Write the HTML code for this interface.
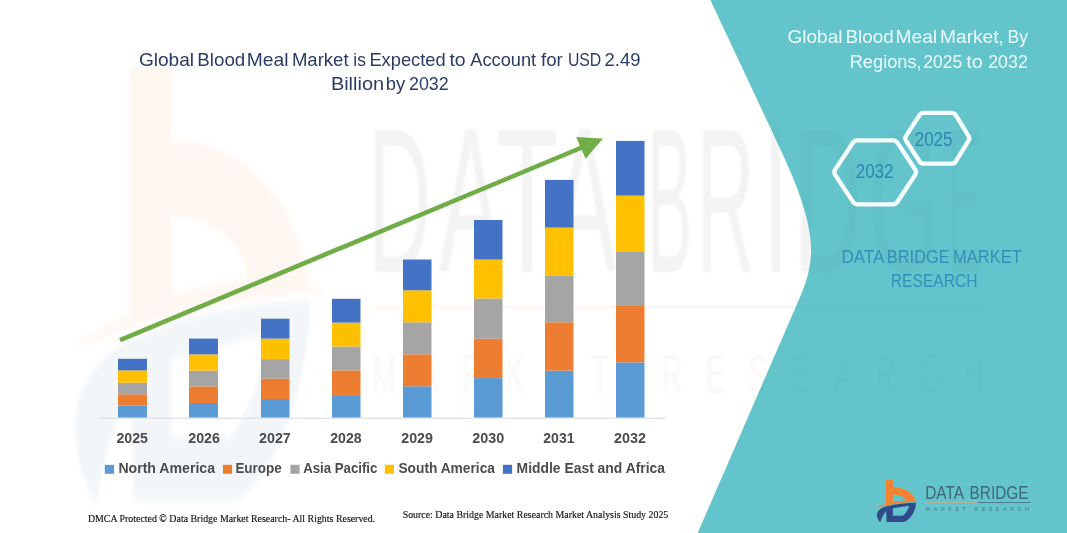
<!DOCTYPE html>
<html lang="en">
<head>
<meta charset="utf-8">
<title>Global Blood Meal Market</title>
<style>
html,body{margin:0;padding:0;background:#fff;}
body{width:1067px;height:533px;overflow:hidden;position:relative;font-family:"Liberation Sans",sans-serif;}
svg{position:absolute;left:0;top:0;display:block;}
.sans{font-family:"Liberation Sans",sans-serif;}
.serif{font-family:"Liberation Serif",serif;}
</style>
</head>
<body>
<svg width="1067" height="533" viewBox="0 0 1067 533">
<defs>
<g id="logo">
<path id="logoO" fill="#F58233" d="M155 48 L222 48 L222 118 C300 116 420 150 443 252 L470 259 C340 264 190 280 62 314 C90 298 125 288 155 282 Z M222 188 L222 262 L346 247 C340 215 290 188 222 188 Z"/>
<path id="logoB" fill="#2F4B8A" d="M100 460 C45 395 55 335 160 303 C250 280 350 270 446 268 C442 345 400 425 330 455 L160 455 L157 350 C135 375 112 415 100 460 Z M222 322 L222 396 L318 396 C348 372 368 340 378 298 Z"/>
</g>
<filter id="soft" x="-5%" y="-5%" width="110%" height="110%"><feGaussianBlur stdDeviation="3"/></filter>
<filter id="soft1" x="-2%" y="-5%" width="104%" height="110%"><feGaussianBlur stdDeviation="1.2"/></filter>
</defs>
<!-- watermark on white -->
<g transform="translate(34,16) scale(0.619,1.063)" filter="url(#soft)">
<use href="#logoO" opacity="0.075"/>
<use href="#logoB" opacity="0.05"/>
</g>
<!-- watermark text -->
<g id="wmtext" class="sans" fill="#555" opacity="0.035" filter="url(#soft1)">
<text transform="translate(0,271.5) scale(1,2.19)" font-size="94"><tspan x="368.0" textLength="63.3" lengthAdjust="spacingAndGlyphs">D</tspan><tspan x="439.0" textLength="62.7" lengthAdjust="spacingAndGlyphs">A</tspan><tspan x="496.0" textLength="62.2" lengthAdjust="spacingAndGlyphs">T</tspan><tspan x="552.0" textLength="64.7" lengthAdjust="spacingAndGlyphs">A</tspan> <tspan x="647.4" textLength="44.7" lengthAdjust="spacingAndGlyphs">B</tspan><tspan x="697.1" textLength="57.7" lengthAdjust="spacingAndGlyphs">R</tspan><tspan x="762.9" textLength="25.0" lengthAdjust="spacingAndGlyphs">I</tspan><tspan x="793.4" textLength="68.6" lengthAdjust="spacingAndGlyphs">D</tspan><tspan x="868.5" textLength="70.7" lengthAdjust="spacingAndGlyphs">G</tspan><tspan x="946.8" textLength="34.7" lengthAdjust="spacingAndGlyphs">E</tspan></text>
<text transform="translate(372,393) scale(1,1.9)" font-size="29" textLength="612" lengthAdjust="spacing" opacity="0.6">MARKET RESEARCH</text>
<rect x="372" y="305.5" width="268" height="3" fill="#F58233"/>
<rect x="640" y="305.5" width="345" height="3"/>
</g>
<!-- teal panel -->
<path id="panel" fill="#63C4CB" d="M710.4 0 L780.75 150 C820.1 234 815.3 262 798.8 300 L697.7 533 L1067 533 L1067 0 Z"/>
<use href="#wmtext"/>
<!-- axis -->
<line x1="98.3" y1="418.2" x2="665.6" y2="418.2" stroke="#D9D9D9" stroke-width="1"/>
<!-- bars -->
<rect x="118" y="405.6" width="29" height="11.9" fill="#5B9BD5"/>
<rect x="118" y="394.3" width="29" height="11.3" fill="#ED7D31"/>
<rect x="118" y="382.7" width="29" height="11.6" fill="#A5A5A5"/>
<rect x="118" y="370.4" width="29" height="12.3" fill="#FFC000"/>
<rect x="118" y="358.8" width="29" height="11.6" fill="#4472C4"/>
<rect x="189" y="403.0" width="29" height="14.5" fill="#5B9BD5"/>
<rect x="189" y="386.4" width="29" height="16.6" fill="#ED7D31"/>
<rect x="189" y="370.6" width="29" height="15.8" fill="#A5A5A5"/>
<rect x="189" y="354.4" width="29" height="16.2" fill="#FFC000"/>
<rect x="189" y="338.6" width="29" height="15.8" fill="#4472C4"/>
<rect x="261" y="399.0" width="28.5" height="18.5" fill="#5B9BD5"/>
<rect x="261" y="378.5" width="28.5" height="20.5" fill="#ED7D31"/>
<rect x="261" y="359.1" width="28.5" height="19.4" fill="#A5A5A5"/>
<rect x="261" y="338.6" width="28.5" height="20.5" fill="#FFC000"/>
<rect x="261" y="318.7" width="28.5" height="19.9" fill="#4472C4"/>
<rect x="332" y="395.1" width="28.5" height="22.4" fill="#5B9BD5"/>
<rect x="332" y="370.4" width="28.5" height="24.7" fill="#ED7D31"/>
<rect x="332" y="346.5" width="28.5" height="23.9" fill="#A5A5A5"/>
<rect x="332" y="322.6" width="28.5" height="23.9" fill="#FFC000"/>
<rect x="332" y="298.8" width="28.5" height="23.8" fill="#4472C4"/>
<rect x="403" y="386.3" width="28.5" height="31.2" fill="#5B9BD5"/>
<rect x="403" y="354.3" width="28.5" height="32.0" fill="#ED7D31"/>
<rect x="403" y="322.3" width="28.5" height="32.0" fill="#A5A5A5"/>
<rect x="403" y="290.3" width="28.5" height="32.0" fill="#FFC000"/>
<rect x="403" y="259.5" width="28.5" height="30.8" fill="#4472C4"/>
<rect x="474" y="378.1" width="28.5" height="39.4" fill="#5B9BD5"/>
<rect x="474" y="338.6" width="28.5" height="39.5" fill="#ED7D31"/>
<rect x="474" y="298.5" width="28.5" height="40.1" fill="#A5A5A5"/>
<rect x="474" y="259.5" width="28.5" height="39.0" fill="#FFC000"/>
<rect x="474" y="220.0" width="28.5" height="39.5" fill="#4472C4"/>
<rect x="545" y="370.6" width="28.5" height="46.9" fill="#5B9BD5"/>
<rect x="545" y="322.3" width="28.5" height="48.3" fill="#ED7D31"/>
<rect x="545" y="275.8" width="28.5" height="46.5" fill="#A5A5A5"/>
<rect x="545" y="227.6" width="28.5" height="48.2" fill="#FFC000"/>
<rect x="545" y="179.9" width="28.5" height="47.7" fill="#4472C4"/>
<rect x="616" y="362.4" width="28.5" height="55.1" fill="#5B9BD5"/>
<rect x="616" y="306.0" width="28.5" height="56.4" fill="#ED7D31"/>
<rect x="616" y="252.0" width="28.5" height="54.0" fill="#A5A5A5"/>
<rect x="616" y="195.6" width="28.5" height="56.4" fill="#FFC000"/>
<rect x="616" y="140.9" width="28.5" height="54.7" fill="#4472C4"/>
<!-- arrow -->
<line x1="120" y1="340.1" x2="583" y2="147" stroke="#70AD47" stroke-width="4.6"/>
<polygon points="603,138.6 576.2,137.1 585.6,158.8" fill="#70AD47"/>
<!-- titles -->
<g class="sans" font-size="18.6" fill="#2A3D66" word-spacing="-1">
<text y="66.2"><tspan x="138.9" textLength="55.2" lengthAdjust="spacingAndGlyphs">Global</tspan> <tspan x="197.3" textLength="48.0" lengthAdjust="spacingAndGlyphs">Blood</tspan> <tspan x="246.8" textLength="41.7" lengthAdjust="spacingAndGlyphs">Meal</tspan> <tspan x="291.9" textLength="56.7" lengthAdjust="spacingAndGlyphs">Market</tspan> <tspan x="353.3" textLength="12.6" lengthAdjust="spacingAndGlyphs">is</tspan> <tspan x="369.4" textLength="76.3" lengthAdjust="spacingAndGlyphs">Expected</tspan> <tspan x="449.4" textLength="16.2" lengthAdjust="spacingAndGlyphs">to</tspan> <tspan x="470.3" textLength="65.8" lengthAdjust="spacingAndGlyphs">Account</tspan> <tspan x="541.1" textLength="21.7" lengthAdjust="spacingAndGlyphs">for</tspan> <tspan x="567.9" textLength="33.4" lengthAdjust="spacingAndGlyphs">USD</tspan> <tspan x="604.6" textLength="35.9" lengthAdjust="spacingAndGlyphs">2.49</tspan></text>
<text y="89.8"><tspan x="330.9" textLength="53.2" lengthAdjust="spacingAndGlyphs">Billion</tspan> <tspan x="385.8" textLength="19.5" lengthAdjust="spacingAndGlyphs">by</tspan> <tspan x="409.0" textLength="39.7" lengthAdjust="spacingAndGlyphs">2032</tspan></text>
</g>
<g class="sans" font-size="18.2" fill="#EAFBFC" word-spacing="-1">
<text y="43.4"><tspan x="787.5" textLength="55.0" lengthAdjust="spacingAndGlyphs">Global</tspan> <tspan x="845.5" textLength="48.2" lengthAdjust="spacingAndGlyphs">Blood</tspan> <tspan x="895.5" textLength="41.6" lengthAdjust="spacingAndGlyphs">Meal</tspan> <tspan x="940.1" textLength="63.8" lengthAdjust="spacingAndGlyphs">Market,</tspan> <tspan x="1007.6" textLength="20.4" lengthAdjust="spacingAndGlyphs">By</tspan></text>
<text y="67.6"><tspan x="849.7" textLength="72.0" lengthAdjust="spacingAndGlyphs">Regions,</tspan> <tspan x="923.3" textLength="38.8" lengthAdjust="spacingAndGlyphs">2025</tspan> <tspan x="966.2" textLength="16.7" lengthAdjust="spacingAndGlyphs">to</tspan> <tspan x="988.2" textLength="39.6" lengthAdjust="spacingAndGlyphs">2032</tspan></text>
</g>
<!-- hexagons -->
<g fill="none" stroke="#F4FCFD" stroke-width="4.3" stroke-linejoin="round">
<path d="M835.1 174.8 Q833.4 172.3 835.1 169.8 L852.9 142.8 Q854.6 140.3 857.6 140.3 L892.8 140.3 Q895.8 140.3 897.5 142.8 L915.3 169.8 Q917.0 172.3 915.3 174.8 L897.5 201.8 Q895.8 204.3 892.8 204.3 L857.6 204.3 Q854.6 204.3 852.9 201.8 Z"/>
<path d="M905.9 140.5 Q904.5 138.3 905.9 136.1 L919.6 115.0 Q921.0 112.8 923.6 112.8 L951.7 112.8 Q954.3 112.8 955.7 115.0 L968.6 136.1 Q970.0 138.3 968.6 140.5 L955.7 161.5 Q954.3 163.7 951.7 163.7 L923.6 163.7 Q921.0 163.7 919.6 161.5 Z"/>
</g>
<g class="sans" font-size="19.4" fill="#2E86B5">
<text x="855.7" y="177.8" textLength="37.8" lengthAdjust="spacingAndGlyphs">2032</text>
<text x="914.7" y="145.8" textLength="37.8" lengthAdjust="spacingAndGlyphs">2025</text>
</g>
<g class="sans" font-size="18.5" fill="#348FBB">
<text y="262.7"><tspan x="841.5" textLength="42.0" lengthAdjust="spacingAndGlyphs">DATA</tspan> <tspan x="886.8" textLength="62.9" lengthAdjust="spacingAndGlyphs">BRIDGE</tspan> <tspan x="953.1" textLength="68.6" lengthAdjust="spacingAndGlyphs">MARKET</tspan></text>
<text y="286.7"><tspan x="890.7" textLength="87.0" lengthAdjust="spacingAndGlyphs">RESEARCH</tspan></text>
</g>
<!-- axis labels -->
<g class="sans" font-size="14.5" font-weight="bold" fill="#4C4C4C">
<text x="132.2" y="443" text-anchor="middle" textLength="31.5" lengthAdjust="spacingAndGlyphs">2025</text>
<text x="204.1" y="443" text-anchor="middle" textLength="31.7" lengthAdjust="spacingAndGlyphs">2026</text>
<text x="274.9" y="443" text-anchor="middle" textLength="31.7" lengthAdjust="spacingAndGlyphs">2027</text>
<text x="345.9" y="443" text-anchor="middle" textLength="31.4" lengthAdjust="spacingAndGlyphs">2028</text>
<text x="417.1" y="443" text-anchor="middle" textLength="31.7" lengthAdjust="spacingAndGlyphs">2029</text>
<text x="488.2" y="443" text-anchor="middle" textLength="32.0" lengthAdjust="spacingAndGlyphs">2030</text>
<text x="558.9" y="443" text-anchor="middle" textLength="31.1" lengthAdjust="spacingAndGlyphs">2031</text>
<text x="630.0" y="443" text-anchor="middle" textLength="31.8" lengthAdjust="spacingAndGlyphs">2032</text>
</g>
<!-- legend -->
<g>
<rect x="104.8" y="464.8" width="9.2" height="9" fill="#5B9BD5"/>
<rect x="222.9" y="464.8" width="9.2" height="9" fill="#ED7D31"/>
<rect x="290.4" y="464.8" width="9.2" height="9" fill="#A5A5A5"/>
<rect x="384.8" y="464.8" width="9.2" height="9" fill="#FFC000"/>
<rect x="502.9" y="464.8" width="9.2" height="9" fill="#4472C4"/>
</g>
<g class="sans" font-size="15" font-weight="bold" fill="#4C4C4C">
<text x="118.4" y="473.4" textLength="96.6" lengthAdjust="spacingAndGlyphs">North America</text>
<text x="235.4" y="473.4" textLength="46.4" lengthAdjust="spacingAndGlyphs">Europe</text>
<text x="303.2" y="473.4" textLength="74.2" lengthAdjust="spacingAndGlyphs">Asia Pacific</text>
<text x="398.4" y="473.4" textLength="96.6" lengthAdjust="spacingAndGlyphs">South America</text>
<text x="516.6" y="473.4" textLength="148.4" lengthAdjust="spacingAndGlyphs">Middle East and Africa</text>
</g>
<!-- footers -->
<g class="serif" font-size="10.7" fill="#111" stroke="#111" stroke-width="0.15">
<text x="87.9" y="522.2" textLength="287.3" lengthAdjust="spacingAndGlyphs">DMCA Protected © Data Bridge Market Research-  All Rights Reserved.</text>
<text x="402.7" y="517.7" textLength="265.6" lengthAdjust="spacingAndGlyphs">Source: Data Bridge Market Research  Market Analysis Study 2025</text>
</g>
<!-- logo bottom right -->
<g transform="translate(870,475) scale(0.1032)">
<use href="#logo"/>
</g>
<g class="sans" fill="#3E6777">
<text y="499.1" font-size="18.4"><tspan x="925.2" textLength="38" lengthAdjust="spacingAndGlyphs">DATA</tspan> <tspan x="969.6" textLength="58.8" lengthAdjust="spacingAndGlyphs">BRIDGE</tspan></text>
<text x="925.8" y="511.4" font-size="5.4" textLength="103" lengthAdjust="spacing" fill="#4F7683">MARKET RESEARCH</text>
</g>
<line x1="926" y1="502.5" x2="977" y2="502.5" stroke="#B9B49E" stroke-width="0.9"/>
<line x1="978" y1="502.5" x2="1030.5" y2="502.5" stroke="#4F7795" stroke-width="0.9"/>
</svg>
</body>
</html>
